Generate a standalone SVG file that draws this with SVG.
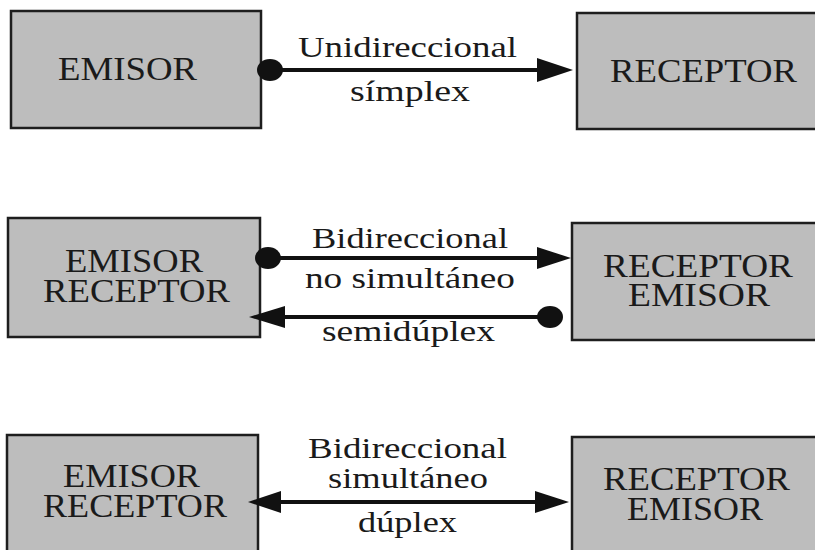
<svg xmlns="http://www.w3.org/2000/svg" width="815" height="550" viewBox="0 0 815 550">
<defs>
<style>
.box{fill:#bdbdbd;stroke:#1e1e1e;stroke-width:2.5}
.bt{font-family:"Liberation Serif","Times New Roman",serif;font-size:34px;fill:#1a1a1a}
.lt{font-family:"Liberation Serif","Times New Roman",serif;font-size:30px;fill:#1a1a1a}
.ln{stroke:#111;stroke-width:4;fill:none}
.hd{fill:#111}
</style>
</defs>
<rect width="815" height="550" fill="#ffffff"/>
<g id="emisor1">
<rect class="box" x="11" y="11" width="250" height="117"/>
<text class="bt" x="58" y="80" textLength="139" lengthAdjust="spacingAndGlyphs">EMISOR</text>
</g>
<g id="receptor1">
<rect class="box" x="577" y="13" width="250" height="116"/>
<text class="bt" x="610" y="82" textLength="187" lengthAdjust="spacingAndGlyphs">RECEPTOR</text>
</g>
<g id="emisorreceptor2">
<rect class="box" x="8" y="218" width="252" height="119"/>
<text class="bt" x="65" y="272" textLength="138" lengthAdjust="spacingAndGlyphs">EMISOR</text>
<text class="bt" x="43" y="302" textLength="187" lengthAdjust="spacingAndGlyphs">RECEPTOR</text>
</g>
<g id="receptoremisor2">
<rect class="box" x="572" y="223" width="255" height="117"/>
<text class="bt" x="603" y="277" textLength="190" lengthAdjust="spacingAndGlyphs">RECEPTOR</text>
<text class="bt" x="628" y="306" textLength="142" lengthAdjust="spacingAndGlyphs">EMISOR</text>
</g>
<g id="emisorreceptor3">
<rect class="box" x="7" y="435" width="251" height="125"/>
<text class="bt" x="63" y="487" textLength="137" lengthAdjust="spacingAndGlyphs">EMISOR</text>
<text class="bt" x="43" y="517" textLength="184" lengthAdjust="spacingAndGlyphs">RECEPTOR</text>
</g>
<g id="receptoremisor3">
<rect class="box" x="572" y="437" width="255" height="123"/>
<text class="bt" x="603" y="490" textLength="187" lengthAdjust="spacingAndGlyphs">RECEPTOR</text>
<text class="bt" x="627" y="520" textLength="136" lengthAdjust="spacingAndGlyphs">EMISOR</text>
</g>
<g id="connectors">
<line class="ln" x1="270" y1="70" x2="540" y2="70"/>
<ellipse class="hd" cx="270" cy="70" rx="13" ry="11"/>
<polygon class="hd" points="537,58 573,70 537,82"/>
<line class="ln" x1="268" y1="258" x2="540" y2="258"/>
<ellipse class="hd" cx="268" cy="258" rx="13" ry="11"/>
<polygon class="hd" points="537,247 571,258 537,269"/>
<line class="ln" x1="282" y1="317" x2="550" y2="317"/>
<ellipse class="hd" cx="550" cy="317" rx="13" ry="11"/>
<polygon class="hd" points="285,306 249,317 285,328"/>
<line class="ln" x1="278" y1="502" x2="538" y2="502"/>
<polygon class="hd" points="281,491 248,502 281,513"/>
<polygon class="hd" points="535,491 569,502 535,513"/>
</g>
<g id="labels">
<text class="lt" x="298" y="57" textLength="219" lengthAdjust="spacingAndGlyphs">Unidireccional</text>
<text class="lt" x="350" y="101" textLength="120" lengthAdjust="spacingAndGlyphs">símplex</text>
<text class="lt" x="312" y="248" textLength="196" lengthAdjust="spacingAndGlyphs">Bidireccional</text>
<text class="lt" x="305" y="288" textLength="210" lengthAdjust="spacingAndGlyphs">no simultáneo</text>
<text class="lt" x="322" y="341" textLength="173" lengthAdjust="spacingAndGlyphs">semidúplex</text>
<text class="lt" x="308" y="458" textLength="199" lengthAdjust="spacingAndGlyphs">Bidireccional</text>
<text class="lt" x="328" y="488" textLength="160" lengthAdjust="spacingAndGlyphs">simultáneo</text>
<text class="lt" x="358" y="532" textLength="99" lengthAdjust="spacingAndGlyphs">dúplex</text>
</g>
</svg>
